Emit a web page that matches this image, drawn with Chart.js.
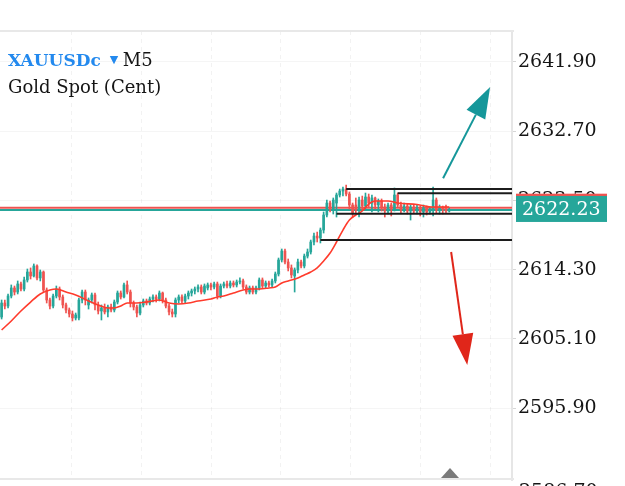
<!DOCTYPE html>
<html>
<head>
<meta charset="utf-8">
<title>XAUUSDc M5</title>
<script src="https://cdn.jsdelivr.net/npm/chart.js@4.4.1/dist/chart.umd.min.js"></script>
<style>
    html, body { margin: 0; padding: 0; background: #fff; }
</style>
</head>
<body>
<canvas id="chart" width="625" height="486"></canvas>
<script>
// Velas M5 (preço)
const opens = [
    2608.00, 2609.86, 2609.46, 2610.79, 2611.86, 2611.32, 2612.39, 2611.72, 2612.92, 2613.98,
    2613.45, 2614.78, 2613.19, 2613.98, 2611.59, 2610.26, 2609.46, 2610.79, 2611.72, 2610.66,
    2609.60, 2608.93, 2608.40, 2607.87, 2607.87, 2610.26, 2611.32, 2609.60, 2610.26, 2610.93,
    2609.60, 2608.80, 2609.20, 2608.67, 2609.33, 2608.93, 2609.99, 2611.19, 2610.66, 2612.26,
    2611.32, 2609.86, 2609.33, 2608.53, 2609.60, 2610.13, 2609.86, 2610.39, 2610.66, 2610.39,
    2611.19, 2610.26, 2609.46, 2608.67, 2608.40, 2610.26, 2610.66, 2610.13, 2610.79, 2611.19,
    2611.46, 2611.72, 2611.99, 2611.32, 2611.86, 2612.26, 2611.99, 2612.39, 2610.79, 2612.12,
    2612.39, 2612.12, 2612.52, 2612.26, 2612.65, 2612.79, 2611.99, 2611.32, 2611.86, 2611.32,
    2611.86, 2612.92, 2612.12, 2612.52, 2612.26, 2612.79, 2613.72, 2615.58, 2616.77, 2615.31,
    2614.52, 2613.45, 2614.25, 2615.31, 2614.78, 2616.10, 2616.64, 2617.97, 2618.76, 2618.50,
    2619.56, 2621.56, 2623.15, 2622.36, 2623.15, 2624.22, 2624.75, 2625.01, 2624.35, 2622.89,
    2622.89, 2622.22, 2623.55, 2622.75, 2623.95, 2623.15, 2623.82, 2622.89, 2623.42, 2622.62,
    2622.09, 2622.89, 2622.36, 2624.22, 2622.89, 2622.22, 2622.75, 2622.09, 2622.62, 2622.09,
    2622.49, 2621.96, 2622.49, 2621.96, 2622.36, 2623.55, 2622.22, 2622.49, 2622.36, 2622.09
];
const closes = [
    2609.86, 2609.46, 2610.79, 2611.86, 2611.32, 2612.39, 2611.72, 2612.92, 2613.98, 2613.45,
    2614.78, 2613.19, 2613.98, 2611.59, 2610.26, 2609.46, 2610.79, 2611.72, 2610.66, 2609.60,
    2608.93, 2608.40, 2607.87, 2608.27, 2610.26, 2611.32, 2610.26, 2610.26, 2610.93, 2609.60,
    2608.80, 2609.20, 2608.67, 2609.33, 2608.93, 2609.99, 2611.19, 2610.66, 2612.26, 2611.32,
    2609.86, 2609.33, 2608.53, 2609.60, 2610.13, 2609.86, 2610.39, 2610.66, 2610.39, 2611.19,
    2610.26, 2609.46, 2608.67, 2608.40, 2610.26, 2610.66, 2610.13, 2610.79, 2611.19, 2611.46,
    2611.72, 2611.99, 2611.32, 2612.12, 2612.26, 2611.99, 2612.39, 2610.79, 2612.12, 2612.39,
    2612.12, 2612.52, 2612.26, 2612.65, 2612.79, 2611.99, 2611.32, 2611.86, 2611.32, 2611.86,
    2612.92, 2612.12, 2612.52, 2612.26, 2612.79, 2613.72, 2615.58, 2616.77, 2615.31, 2614.52,
    2613.59, 2614.25, 2615.31, 2614.78, 2616.10, 2616.64, 2617.97, 2618.76, 2618.50, 2619.56,
    2621.56, 2623.15, 2622.36, 2623.55, 2624.22, 2624.75, 2625.01, 2624.35, 2622.89, 2621.82,
    2622.22, 2623.55, 2622.75, 2623.95, 2623.15, 2623.82, 2622.89, 2623.42, 2622.62, 2622.09,
    2622.89, 2622.36, 2624.22, 2622.89, 2622.22, 2622.75, 2622.09, 2622.62, 2622.09, 2622.49,
    2621.96, 2622.49, 2621.96, 2622.36, 2623.55, 2622.22, 2622.49, 2622.36, 2622.09, 2622.23
];
const highs = [
    2610.26, 2610.26, 2611.06, 2612.26, 2612.12, 2612.79, 2612.65, 2613.32, 2614.38, 2614.52,
    2615.05, 2614.92, 2614.25, 2614.12, 2611.86, 2610.53, 2611.06, 2612.12, 2611.99, 2610.93,
    2609.86, 2609.20, 2608.80, 2608.53, 2610.53, 2611.59, 2611.59, 2610.53, 2611.19, 2611.19,
    2609.99, 2609.60, 2609.73, 2609.60, 2609.73, 2610.26, 2611.46, 2611.46, 2612.52, 2612.79,
    2611.59, 2610.13, 2609.60, 2609.99, 2610.39, 2610.39, 2610.66, 2610.93, 2610.93, 2611.46,
    2611.32, 2610.53, 2609.73, 2609.06, 2610.53, 2610.93, 2610.93, 2611.06, 2611.46, 2611.72,
    2611.99, 2612.26, 2612.26, 2612.39, 2612.52, 2612.52, 2612.65, 2612.65, 2612.39, 2612.65,
    2612.79, 2612.79, 2612.79, 2612.92, 2613.19, 2613.05, 2612.26, 2612.12, 2612.12, 2612.12,
    2613.19, 2613.19, 2612.79, 2612.79, 2613.05, 2613.98, 2615.84, 2617.04, 2617.04, 2615.71,
    2614.92, 2614.52, 2615.71, 2615.58, 2616.37, 2617.04, 2618.23, 2619.16, 2619.29, 2619.83,
    2621.96, 2623.55, 2623.42, 2623.82, 2624.48, 2625.01, 2625.28, 2625.55, 2624.62, 2623.15,
    2623.82, 2623.95, 2624.08, 2624.48, 2624.35, 2624.22, 2623.95, 2623.69, 2623.69, 2623.02,
    2623.15, 2623.15, 2625.15, 2624.48, 2623.29, 2623.15, 2623.02, 2622.89, 2622.89, 2622.89,
    2622.75, 2622.89, 2622.75, 2622.62, 2625.28, 2623.82, 2622.89, 2622.75, 2622.89, 2622.49
];
const lows = [
    2607.73, 2609.06, 2609.20, 2610.53, 2610.93, 2611.06, 2611.46, 2611.46, 2612.65, 2613.05,
    2613.32, 2612.92, 2612.79, 2611.32, 2609.86, 2609.06, 2609.20, 2610.53, 2610.26, 2609.20,
    2608.53, 2608.00, 2607.47, 2607.60, 2607.60, 2609.86, 2609.60, 2609.06, 2609.86, 2608.93,
    2608.40, 2607.60, 2608.40, 2608.00, 2608.67, 2608.67, 2609.73, 2610.39, 2610.53, 2611.06,
    2609.33, 2608.93, 2608.00, 2608.27, 2609.33, 2609.60, 2609.60, 2609.99, 2609.99, 2610.13,
    2609.86, 2609.20, 2608.27, 2608.00, 2608.00, 2609.86, 2609.86, 2609.86, 2610.39, 2610.79,
    2611.06, 2611.32, 2611.06, 2611.06, 2611.59, 2611.59, 2611.72, 2610.39, 2610.53, 2611.86,
    2611.86, 2611.86, 2611.99, 2611.99, 2612.39, 2611.72, 2611.06, 2611.06, 2611.06, 2611.06,
    2611.59, 2611.86, 2611.86, 2611.99, 2611.99, 2612.52, 2613.45, 2615.31, 2615.05, 2614.12,
    2613.19, 2611.32, 2613.85, 2614.52, 2614.52, 2615.84, 2616.37, 2617.57, 2617.97, 2617.84,
    2619.16, 2621.29, 2621.96, 2621.69, 2621.29, 2623.95, 2624.08, 2624.08, 2622.36, 2621.29,
    2621.82, 2621.29, 2622.22, 2622.36, 2622.62, 2621.96, 2622.36, 2621.96, 2622.09, 2621.29,
    2621.69, 2621.43, 2622.09, 2622.62, 2621.82, 2621.96, 2621.69, 2620.89, 2621.82, 2621.69,
    2621.43, 2621.29, 2621.56, 2621.69, 2621.43, 2621.82, 2621.69, 2621.69, 2621.82, 2621.96
];

// Média móvel (índice da vela -> valor)
const maIndex = [0, 3, 6, 9, 12, 15, 17, 20, 23, 27, 30, 33, 35, 37, 39, 42, 45, 49, 52, 55,
    58, 61, 65, 67, 69, 72, 75, 77, 80, 83, 85, 87, 89, 92, 94, 96, 98, 100, 102, 104,
    106, 108, 110, 112, 114, 116, 120, 123, 129, 134, 139];
const maValues = [2606.27, 2607.47, 2608.80, 2609.99, 2611.06, 2611.59, 2611.72, 2611.32, 2610.93, 2610.13,
    2609.60, 2609.20, 2609.20, 2609.46, 2609.86, 2609.86, 2609.99, 2610.26, 2609.86, 2609.73,
    2609.86, 2610.13, 2610.39, 2610.66, 2610.79, 2611.19, 2611.59, 2611.72, 2611.72, 2611.86,
    2611.99, 2612.52, 2612.79, 2613.19, 2613.59, 2613.98, 2614.52, 2615.44, 2616.50, 2617.97,
    2619.56, 2620.89, 2621.56, 2622.09, 2623.02, 2623.42, 2623.42, 2623.15, 2622.95, 2622.62,
    2622.62];

// Escala de preço
const priceTicks = [2595.90, 2605.10, 2614.30, 2623.50, 2632.70, 2641.90];
const cutTickLabel = '2586.70';
const priceMin = 2586.33;
const priceMax = 2646.02;
const slotCount = 159; // velas + espaço vazio à direita

// Preços atuais
const bidPrice = 2622.23;
const askPrice = 2622.53;

// Linhas desenhadas (preço, vela inicial)
const levelPrices = [2625.01, 2624.44, 2621.74, 2618.23];
const levelStarts = [107, 123, 104, 99];

// Grade de tempo (posição em velas)
const timeGrid = [21.5, 43.2, 64.9, 86.6, 108.3, 129.9, 151.6];

// Setas (índice, preço)
const upArrow = { from: [137.1, 2626.45], to: [151.7, 2638.57] };
const downArrow = { from: [139.6, 2616.64], to: [144.6, 2601.62] };

const UP = '#26a69a';
const DOWN = '#ef5350';
const SERIF = '"DejaVu Serif", serif';

const slotLabels = Array.from({ length: slotCount }, (_, i) => String(i));
const maData = slotLabels.map(() => null);
maIndex.forEach((ix, k) => { maData[ix] = maValues[k]; });

function candleColor(ctx) {
    const i = ctx.dataIndex;
    return closes[i] >= opens[i] ? UP : DOWN;
}

function drawArrow(ctx, x0, y0, x1, y1, color) {
    const ang = Math.atan2(y1 - y0, x1 - x0);
    const head = 31, half = 10.5;
    const bx = x1 - head * Math.cos(ang);
    const by = y1 - head * Math.sin(ang);
    ctx.strokeStyle = color;
    ctx.lineWidth = 2;
    ctx.beginPath();
    ctx.moveTo(x0, y0);
    ctx.lineTo(bx, by);
    ctx.stroke();
    ctx.fillStyle = color;
    ctx.beginPath();
    ctx.moveTo(x1, y1);
    ctx.lineTo(bx + half * Math.sin(ang), by - half * Math.cos(ang));
    ctx.lineTo(bx - half * Math.sin(ang), by + half * Math.cos(ang));
    ctx.closePath();
    ctx.fill();
}

const overlay = {
    id: 'overlay',
    beforeDatasetsDraw(chart) {
        const { ctx, chartArea: a, scales: { x, y } } = chart;
        ctx.save();
        // grade vertical bem clara
        ctx.strokeStyle = 'rgba(0,0,0,0.05)';
        ctx.lineWidth = 1;
        ctx.setLineDash([4, 4]);
        timeGrid.forEach(ix => {
            const px = Math.round(x.getPixelForValue(ix)) + 0.5;
            ctx.beginPath();
            ctx.moveTo(px, a.top);
            ctx.lineTo(px, a.bottom);
            ctx.stroke();
        });
        ctx.setLineDash([]);
        // linhas de ask / bid
        ctx.lineWidth = 2;
        ctx.strokeStyle = DOWN;
        ctx.beginPath();
        ctx.moveTo(a.left, y.getPixelForValue(askPrice));
        ctx.lineTo(a.right, y.getPixelForValue(askPrice));
        ctx.stroke();
        ctx.strokeStyle = UP;
        ctx.beginPath();
        ctx.moveTo(a.left, y.getPixelForValue(bidPrice));
        ctx.lineTo(a.right, y.getPixelForValue(bidPrice));
        ctx.stroke();
        ctx.restore();
    },
    afterDatasetsDraw(chart) {
        const { ctx, chartArea: a, scales: { x, y } } = chart;
        ctx.save();
        // linhas horizontais desenhadas
        ctx.strokeStyle = '#1c1c1c';
        ctx.lineWidth = 2;
        levelPrices.forEach((p, k) => {
            const py = y.getPixelForValue(p);
            ctx.beginPath();
            ctx.moveTo(x.getPixelForValue(levelStarts[k]), py);
            ctx.lineTo(a.right, py);
            ctx.stroke();
        });
        // setas
        drawArrow(ctx, x.getPixelForValue(upArrow.from[0]), y.getPixelForValue(upArrow.from[1]),
            x.getPixelForValue(upArrow.to[0]), y.getPixelForValue(upArrow.to[1]), '#15979a');
        drawArrow(ctx, x.getPixelForValue(downArrow.from[0]), y.getPixelForValue(downArrow.from[1]),
            x.getPixelForValue(downArrow.to[0]), y.getPixelForValue(downArrow.to[1]), '#e0261a');
        ctx.restore();
    },
    afterDraw(chart) {
        const { ctx, chartArea: a, scales: { y } } = chart;
        ctx.save();
        // moldura
        ctx.fillStyle = '#e8e8e8';
        ctx.fillRect(0, a.top - 1, a.right + 2, 2);
        ctx.fillRect(0, a.bottom - 2, a.right + 2, 2);

        // título
        ctx.textBaseline = 'alphabetic';
        ctx.font = 'bold 17px ' + SERIF;
        ctx.fillStyle = '#2389ee';
        ctx.fillText('XAUUSDc', 8, 66);
        let w = ctx.measureText('XAUUSDc').width;
        ctx.font = '11px "DejaVu Sans"';
        ctx.fillText('▼', 8 + w + 9, 63);
        ctx.font = '18px ' + SERIF;
        ctx.fillStyle = '#151515';
        ctx.fillText('M5', 8 + w + 22, 66);
        ctx.fillText('Gold Spot (Cent)', 8, 93);

        // caixas de preço
        const lx = a.right + 4;
        const askY = y.getPixelForValue(askPrice);
        const bidY = y.getPixelForValue(bidPrice);
        ctx.fillStyle = DOWN;
        ctx.fillRect(lx, askY - 14, 91, 26);
        ctx.fillStyle = UP;
        ctx.fillRect(lx, bidY - 14, 91, 26);
        ctx.fillStyle = '#ffffff';
        ctx.font = '19px ' + SERIF;
        ctx.textBaseline = 'middle';
        ctx.fillText(bidPrice.toFixed(2), lx + 6, bidY);

        // rótulo cortado no rodapé
        ctx.fillStyle = '#151515';
        ctx.textBaseline = 'top';
        ctx.fillText(cutTickLabel, a.right + 7, a.bottom + 3);

        // botão de rolagem
        ctx.fillStyle = '#7a7a7a';
        ctx.beginPath();
        ctx.moveTo(441, a.bottom - 2);
        ctx.lineTo(459, a.bottom - 2);
        ctx.lineTo(450, a.bottom - 12);
        ctx.closePath();
        ctx.fill();
        ctx.restore();
    }
};

new Chart(document.getElementById('chart'), {
    type: 'bar',
    data: {
        labels: slotLabels,
        datasets: [
            {
                type: 'line',
                label: 'MA',
                data: maData,
                borderColor: '#ff3b2c',
                borderWidth: 1.6,
                pointRadius: 0,
                spanGaps: true,
                cubicInterpolationMode: 'monotone',
                order: 1
            },
            {
                label: 'corpo',
                data: opens.map((o, i) => [o, closes[i]]),
                backgroundColor: candleColor,
                barThickness: 2,
                minBarLength: 1,
                grouped: false,
                order: 2
            },
            {
                label: 'pavio',
                data: lows.map((l, i) => [l, highs[i]]),
                backgroundColor: candleColor,
                barThickness: 1,
                grouped: false,
                order: 3
            }
        ]
    },
    options: {
        responsive: false,
        animation: false,
        layout: { padding: { top: 31, bottom: 6, left: 0, right: 0 } },
        plugins: { legend: { display: false }, tooltip: { enabled: false } },
        scales: {
            x: { display: false },
            y: {
                position: 'right',
                min: priceMin,
                max: priceMax,
                afterBuildTicks: scale => { scale.ticks = priceTicks.map(v => ({ value: v })); },
                afterFit: scale => {
                    scale.width = 113;
                    scale.paddingTop = 0;
                    scale.paddingBottom = 0;
                },
                border: { display: true, color: '#e6e6e6', width: 2 },
                grid: {
                    color: 'rgba(0,0,0,0.04)',
                    borderDash: [4, 4],
                    tickColor: '#d6d6d6',
                    tickLength: 4,
                    tickBorderDash: []
                },
                ticks: {
                    padding: 2,
                    color: '#151515',
                    font: { family: 'DejaVu Serif', size: 19 },
                    callback: v => Number(v).toFixed(2)
                }
            }
        }
    },
    plugins: [overlay]
});
</script>
</body>
</html>
